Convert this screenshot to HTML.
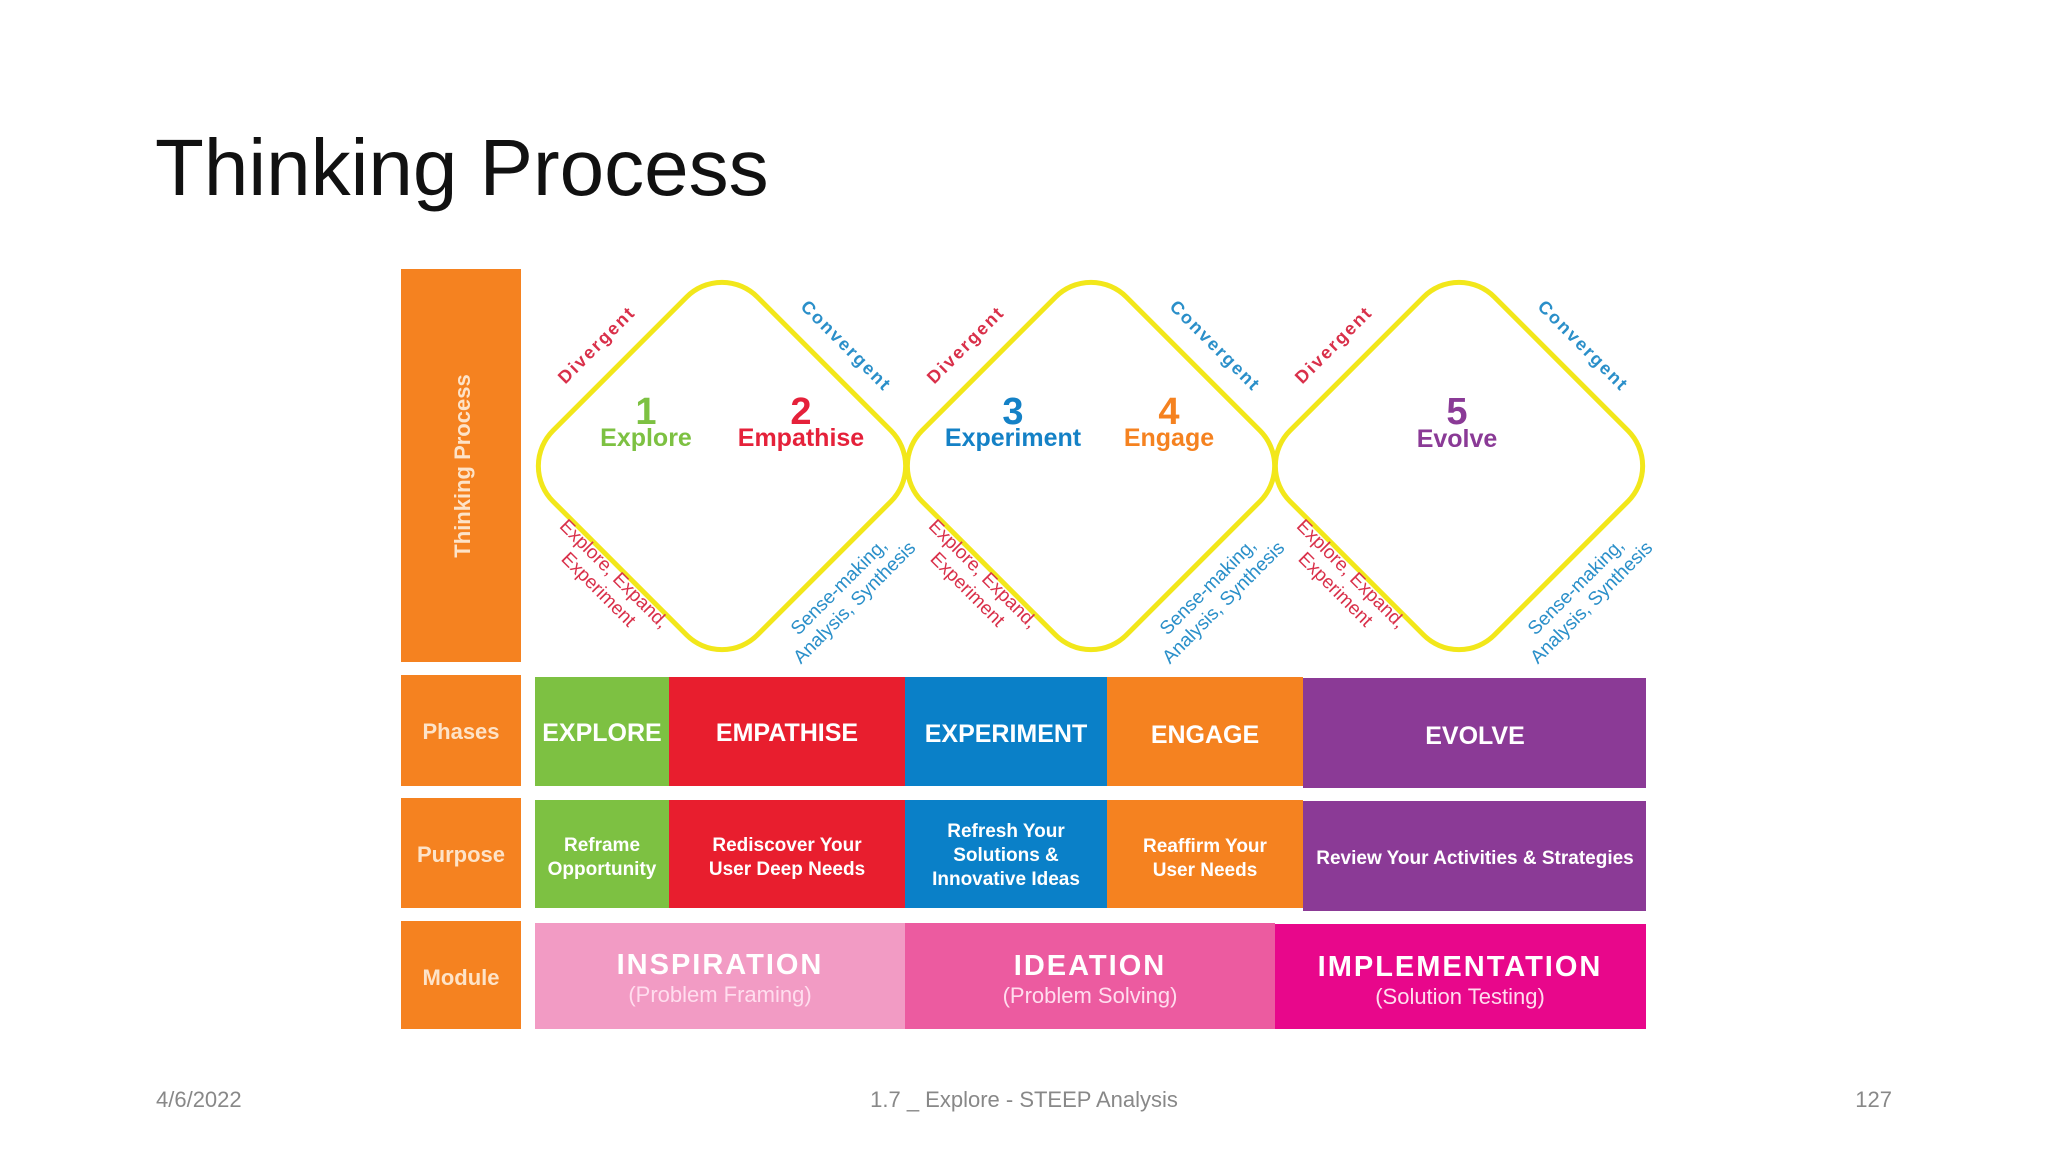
<!DOCTYPE html>
<html><head><meta charset="utf-8"><style>
html,body{margin:0;padding:0;background:#fff;}
svg{display:block}
</style></head><body>
<svg width="2048" height="1152" viewBox="0 0 2048 1152" xmlns="http://www.w3.org/2000/svg" font-family="'Liberation Sans', 'DejaVu Sans', sans-serif">
<text x="155" y="195" font-size="80" fill="#111">Thinking Process</text>

<!-- left orange column -->
<rect x="401" y="269" width="120" height="393" fill="#f58220"/>
<text transform="translate(470,466) rotate(-90)" text-anchor="middle" font-size="22" font-weight="bold" fill="#fde3c8">Thinking Process</text>
<rect x="401" y="675" width="120" height="111" fill="#f58220"/>
<text x="461" y="739" text-anchor="middle" font-size="22" font-weight="bold" fill="#fde3c8">Phases</text>
<rect x="401" y="798" width="120" height="110" fill="#f58220"/>
<text x="461" y="862" text-anchor="middle" font-size="22" font-weight="bold" fill="#fde3c8">Purpose</text>
<rect x="401" y="921" width="120" height="108" fill="#f58220"/>
<text x="461" y="985" text-anchor="middle" font-size="22" font-weight="bold" fill="#fde3c8">Module</text>

<!-- diamonds -->
<g fill="none" stroke="#f2e71a" stroke-width="5">
<rect x="577.5" y="321.5" width="289" height="289" rx="50" transform="rotate(45 722 466)"/>
<rect x="946.5" y="321.5" width="289" height="289" rx="50" transform="rotate(45 1091 466)"/>
<rect x="1314.5" y="321.5" width="289" height="289" rx="50" transform="rotate(45 1459 466)"/>
</g>

<g font-weight="bold" text-anchor="middle">
<text x="646" y="424" font-size="38" fill="#7dc142">1</text>
<text x="646" y="446" font-size="25" fill="#7dc142">Explore</text>
<text x="801" y="424" font-size="38" fill="#e5213a">2</text>
<text x="801" y="446" font-size="25" fill="#e5213a">Empathise</text>
<text x="1013" y="424" font-size="38" fill="#1481c6">3</text>
<text x="1013" y="446" font-size="25" fill="#1481c6">Experiment</text>
<text x="1169" y="424" font-size="38" fill="#f58220">4</text>
<text x="1169" y="446" font-size="25" fill="#f58220">Engage</text>
<text x="1457" y="424" font-size="38" fill="#8a3a96">5</text>
<text x="1457" y="447" font-size="25" fill="#8a3a96">Evolve</text>
</g>

<g font-size="18" font-weight="bold" text-anchor="middle" letter-spacing="2">
<text transform="translate(601,349) rotate(-45)" fill="#d9304a">Divergent</text>
<text transform="translate(842,350) rotate(45)" fill="#2a8fc9">Convergent</text>
<text transform="translate(970,349) rotate(-45)" fill="#d9304a">Divergent</text>
<text transform="translate(1211,350) rotate(45)" fill="#2a8fc9">Convergent</text>
<text transform="translate(1338,349) rotate(-45)" fill="#d9304a">Divergent</text>
<text transform="translate(1579,350) rotate(45)" fill="#2a8fc9">Convergent</text>
</g>

<g font-size="19" text-anchor="middle">
<g transform="translate(607,581) rotate(45)" fill="#d9304a"><text y="-4">Explore, Expand,</text><text y="18">Experiment</text></g>
<g transform="translate(846,594) rotate(-45)" fill="#2a8fc9"><text y="-4">Sense-making,</text><text y="18">Analysis, Synthesis</text></g>
<g transform="translate(976,581) rotate(45)" fill="#d9304a"><text y="-4">Explore, Expand,</text><text y="18">Experiment</text></g>
<g transform="translate(1215,594) rotate(-45)" fill="#2a8fc9"><text y="-4">Sense-making,</text><text y="18">Analysis, Synthesis</text></g>
<g transform="translate(1344,581) rotate(45)" fill="#d9304a"><text y="-4">Explore, Expand,</text><text y="18">Experiment</text></g>
<g transform="translate(1583,594) rotate(-45)" fill="#2a8fc9"><text y="-4">Sense-making,</text><text y="18">Analysis, Synthesis</text></g>
</g>

<!-- Phases row -->
<rect x="535" y="677" width="134" height="109" fill="#7dc142"/>
<rect x="669" y="677" width="236" height="109" fill="#e81e2e"/>
<rect x="905" y="677" width="202" height="109" fill="#0a80c8"/>
<rect x="1107" y="677" width="196" height="109" fill="#f58220"/>
<rect x="1303" y="678" width="343" height="110" fill="#8b3a96"/>
<g fill="#fff" font-size="25" font-weight="bold" text-anchor="middle">
<text x="602" y="741">EXPLORE</text>
<text x="787" y="741">EMPATHISE</text>
<text x="1006" y="742">EXPERIMENT</text>
<text x="1205" y="743">ENGAGE</text>
<text x="1475" y="744">EVOLVE</text>
</g>

<!-- Purpose row -->
<rect x="535" y="800" width="134" height="108" fill="#7dc142"/>
<rect x="669" y="800" width="236" height="108" fill="#e81e2e"/>
<rect x="905" y="800" width="202" height="108" fill="#0a80c8"/>
<rect x="1107" y="800" width="196" height="108" fill="#f58220"/>
<rect x="1303" y="801" width="343" height="110" fill="#8b3a96"/>
<g fill="#fff" font-size="19" font-weight="bold" text-anchor="middle">
<text x="602" y="851">Reframe</text><text x="602" y="875">Opportunity</text>
<text x="787" y="851">Rediscover Your</text><text x="787" y="875">User Deep Needs</text>
<text x="1006" y="837">Refresh Your</text><text x="1006" y="861">Solutions &amp;</text><text x="1006" y="885">Innovative Ideas</text>
<text x="1205" y="852">Reaffirm Your</text><text x="1205" y="876">User Needs</text>
<text x="1475" y="864" font-size="19">Review Your Activities &amp; Strategies</text>
</g>

<!-- Module row -->
<rect x="535" y="923" width="370" height="106" fill="#f29bc4"/>
<rect x="905" y="923" width="370" height="106" fill="#ec5ba0"/>
<rect x="1275" y="924" width="371" height="105" fill="#e8078b"/>
<g fill="#fff" text-anchor="middle">
<text x="720" y="974" font-size="29" font-weight="bold" letter-spacing="2">INSPIRATION</text>
<text x="720" y="1002" font-size="22" fill="#fde">(Problem Framing)</text>
<text x="1090" y="975" font-size="29" font-weight="bold" letter-spacing="2">IDEATION</text>
<text x="1090" y="1003" font-size="22" fill="#fde">(Problem Solving)</text>
<text x="1460" y="976" font-size="29" font-weight="bold" letter-spacing="2">IMPLEMENTATION</text>
<text x="1460" y="1004" font-size="22" fill="#fde">(Solution Testing)</text>
</g>

<!-- footer -->
<g font-size="22" fill="#888">
<text x="156" y="1107">4/6/2022</text>
<text x="1024" y="1107" text-anchor="middle">1.7 _  Explore - STEEP Analysis</text>
<text x="1892" y="1107" text-anchor="end">127</text>
</g>
</svg>
</body></html>
